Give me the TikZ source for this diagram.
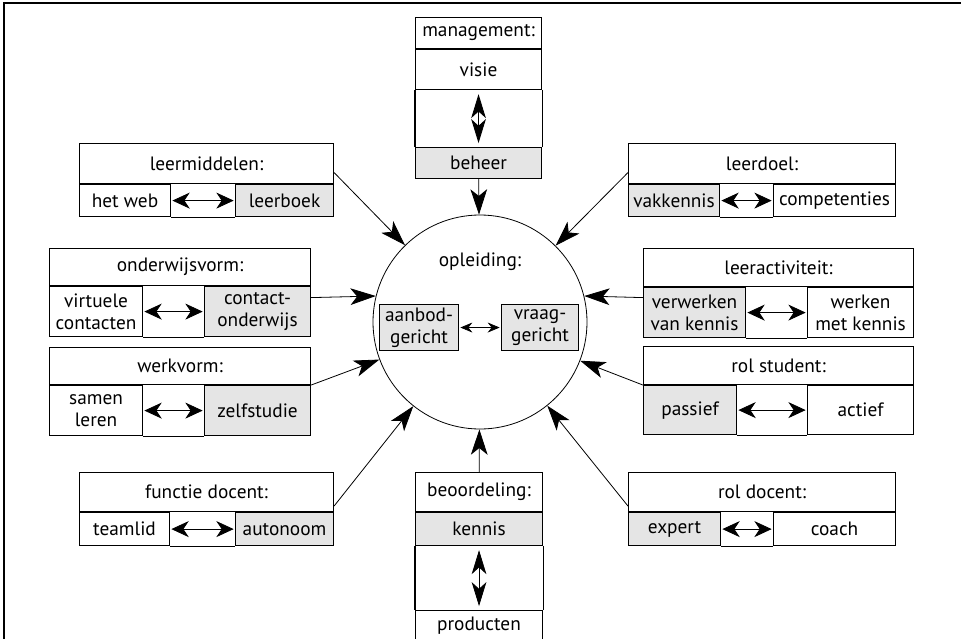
\documentclass[tikz,border=0pt]{standalone}
\usepackage{fontspec}
\setmainfont{PT Sans}
\usepackage{tikz}
\usetikzlibrary{arrows.meta, calc, positioning}
\definecolor{lichtgrijs}{rgb}{0.9,0.9,0.9}

\tikzset{
	kop/.style={draw, line width=0.8pt, inner sep=0pt, align=center, anchor=north west},
	keuze/.style={draw, line width=0.8pt, inner sep=0pt, align=center, fill=white},
	grijs/.style={keuze, fill=lichtgrijs},
	rand/.style={line width=0.8pt},
	pijl/.style={line width=0.6pt, -{Stealth[length=19pt, width=12.5pt, inset=5pt]}},
	dubbel/.style={line width=0.6pt, shorten <=1pt, shorten >=1pt,
		{Stealth[length=13pt, width=12pt, inset=4pt]}-{Stealth[length=13pt, width=12pt, inset=4pt]}},
	dubbelv/.style={line width=0.6pt, shorten <=3pt, shorten >=3pt,
		{Stealth[length=18pt, width=11pt, inset=5pt]}-{Stealth[length=18pt, width=11pt, inset=5pt]}},
	klein/.style={line width=0.5pt, shorten <=1pt, shorten >=1pt,
		{Stealth[length=9pt, width=7.5pt, inset=3pt]}-{Stealth[length=9pt, width=7.5pt, inset=3pt]}}
}

\begin{document}
\begin{tikzpicture}[x=0.75pt, y=-0.75pt, font=\fontsize{14.5}{16.5}\selectfont]
	\useasboundingbox (0,0) rectangle (961,639);
	\draw [line width=1pt] (961,3) -- (4,3) -- (4,639);
	
	%----------------------------------------------------------------
	\node(cirkel) [circle, draw, line width=0.6pt, minimum size=160.5pt, inner sep=0pt] at (480,322) {};
	\node(opleiding) at (480,262) {opleiding:};
	\node(aanbod) [grijs, minimum width=59.25pt, minimum height=34.5pt, anchor=north west] at (379,304) {aanbod-\\gericht};
	\node(vraag) [grijs, minimum width=57.75pt, minimum height=34.5pt, anchor=north west] at (501,304) {vraag-\\gericht};
	\draw [klein] (aanbod) -- (vraag);
	
	%----------------------------------------------------------------
	\node(management) [kop, minimum width=94.5pt, minimum height=23.25pt] at (415,17) {management:};
	\node(visie) [keuze, minimum width=94.5pt, minimum height=30pt, anchor=north west] at (management.south west) {visie};
	\node(beheer) [grijs, minimum width=94.5pt, minimum height=23.25pt, below=42.75pt of visie] {beheer};
	\draw [rand] (visie.south west) -- (beheer.north west);
	\draw [rand] (visie.south east) -- (beheer.north east);
	\draw [dubbelv] (visie) -- (beheer);
	
	\node(beoordeling) [kop, minimum width=95.25pt, minimum height=29.25pt] at (415,472) {beoordeling:};
	\node(kennis) [grijs, minimum width=95.25pt, minimum height=24.75pt, anchor=north west] at (beoordeling.south west) {kennis};
	\node(producten) [keuze, minimum width=95.25pt, minimum height=21.75pt, below=48pt of kennis] {producten};
	\draw [rand] (kennis.south west) -- (producten.north west);
	\draw [rand] (kennis.south east) -- (producten.north east);
	\draw [dubbelv] (kennis) -- (producten);
	
	%----------------------------------------------------------------
	\node(leermiddelen) [kop, minimum width=190.5pt, minimum height=30pt] at (79,143) {leermiddelen:};
	\node(hetweb) [keuze, minimum width=68.25pt, minimum height=24pt, anchor=north west] at (leermiddelen.south west) {het web};
	\node(leerboek) [grijs, minimum width=73.5pt, minimum height=24pt, anchor=north east] at (leermiddelen.south east) {leerboek};
	\draw [rand] (hetweb.south east) -- (leerboek.south west);
	\draw [dubbel] (hetweb) -- (leerboek);
	
	\node(onderwijsvorm) [kop, minimum width=195.75pt, minimum height=27.75pt] at (49,248) {onderwijsvorm:};
	\node(virtueel) [keuze, minimum width=69.75pt, minimum height=37.5pt, anchor=north west] at (onderwijsvorm.south west) {virtuele\\contacten};
	\node(contact) [grijs, minimum width=79.5pt, minimum height=37.5pt, anchor=north east] at (onderwijsvorm.south east) {contact-\\onderwijs};
	\draw [rand] (virtueel.south east) -- (contact.south west);
	\draw [dubbel] (virtueel) -- (contact);
	
	\node(werkvorm) [kop, minimum width=195.75pt, minimum height=27.75pt] at (49,347) {werkvorm:};
	\node(samen) [keuze, minimum width=69.75pt, minimum height=37.5pt, anchor=north west] at (werkvorm.south west) {samen\\leren};
	\node(zelfstudie) [grijs, minimum width=79.5pt, minimum height=37.5pt, anchor=north east] at (werkvorm.south east) {zelfstudie};
	\draw [rand] (samen.south east) -- (zelfstudie.south west);
	\draw [dubbel] (samen) -- (zelfstudie);
	
	\node(functie) [kop, minimum width=190.5pt, minimum height=29.25pt] at (79,472) {functie docent:};
	\node(teamlid) [keuze, minimum width=67.5pt, minimum height=24.75pt, anchor=north west] at (functie.south west) {teamlid};
	\node(autonoom) [grijs, minimum width=73.5pt, minimum height=24.75pt, anchor=north east] at (functie.south east) {autonoom};
	\draw [rand] (teamlid.south east) -- (autonoom.south west);
	\draw [dubbel] (teamlid) -- (autonoom);
	
	%----------------------------------------------------------------
	\node(leerdoel) [kop, minimum width=200.25pt, minimum height=30pt] at (628,143) {leerdoel:};
	\node(vakkennis) [grijs, minimum width=68.25pt, minimum height=24pt, anchor=north west] at (leerdoel.south west) {vakkennis};
	\node(competenties) [keuze, minimum width=91.5pt, minimum height=24pt, anchor=north east] at (leerdoel.south east) {competenties};
	\draw [rand] (vakkennis.south east) -- (competenties.south west);
	\draw [dubbel] (vakkennis) -- (competenties);
	
	\node(leeractiviteit) [kop, minimum width=202.5pt, minimum height=28.5pt] at (643,248) {leeractiviteit:};
	\node(verwerken) [grijs, minimum width=76.5pt, minimum height=37.5pt, anchor=north west] at (leeractiviteit.south west) {verwerken\\van kennis};
	\node(werken) [keuze, minimum width=79.5pt, minimum height=37.5pt, anchor=north east] at (leeractiviteit.south east) {werken\\met kennis};
	\draw [rand] (verwerken.south east) -- (werken.south west);
	\draw [dubbel] (verwerken) -- (werken);
	
	\node(rolstudent) [kop, minimum width=202.5pt, minimum height=28.5pt] at (643,346) {rol student:};
	\node(passief) [grijs, minimum width=69.75pt, minimum height=36.75pt, anchor=north west] at (rolstudent.south west) {passief};
	\node(actief) [keuze, minimum width=79.5pt, minimum height=36.75pt, anchor=north east] at (rolstudent.south east) {actief};
	\draw [rand] (passief.south east) -- (actief.south west);
	\draw [dubbel] (passief) -- (actief);
	
	\node(roldocent) [kop, minimum width=200.25pt, minimum height=29.25pt] at (628,472) {rol docent:};
	\node(expert) [grijs, minimum width=69pt, minimum height=24.75pt, anchor=north west] at (roldocent.south west) {expert};
	\node(coach) [keuze, minimum width=91.5pt, minimum height=24.75pt, anchor=north east] at (roldocent.south east) {coach};
	\draw [rand] (expert.south east) -- (coach.south west);
	\draw [dubbel] (expert) -- (coach);
	
	%----------------------------------------------------------------
	\draw [pijl] (beheer) -- (cirkel);
	\draw [pijl] (beoordeling) -- (cirkel);
	\draw [pijl] ([yshift=-6.75pt]leermiddelen.east) -- (cirkel);
	\draw [pijl] ([yshift=-6.75pt]leerdoel.west) -- (cirkel);
	\draw [pijl] ([yshift=10.5pt]contact.east) -- (cirkel.166);
	\draw [pijl] ([yshift=11.25pt]verwerken.west) -- (cirkel.14);
	\draw [pijl] (zelfstudie.north east) -- (cirkel);
	\draw [pijl] (passief.north west) -- (cirkel);
	\draw [pijl] ([yshift=4.5pt]autonoom.north east) -- (cirkel);
	\draw [pijl] ([yshift=4.5pt]expert.north west) -- (cirkel);
	
\end{tikzpicture}
\end{document}
